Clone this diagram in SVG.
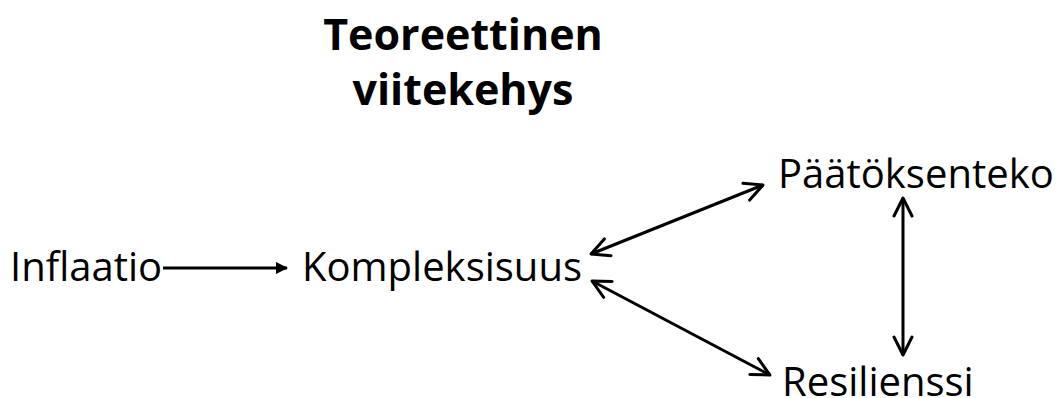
<svg xmlns="http://www.w3.org/2000/svg" width="1059" height="398" viewBox="0 0 1059 398">
<defs>
<style>
.t{font-family:"Open Sans","Liberation Sans",sans-serif;fill:#000}
.title{font-size:43px;font-weight:700;text-anchor:middle}
.lbl{font-size:40px}
.c{stroke:#000;stroke-width:3;fill:none}
</style>
<marker id="fill" viewBox="0 0 14 14" refX="12" refY="7" markerWidth="14" markerHeight="14" orient="auto" markerUnits="userSpaceOnUse"><path d="M1,1 L13,7 L1,13 z" fill="#000"/></marker>
<marker id="open" viewBox="0 0 24 24" refX="22" refY="12" markerWidth="24" markerHeight="24" orient="auto-start-reverse" markerUnits="userSpaceOnUse"><path d="M4,3 L22,12 L4,21" fill="none" stroke="#000" stroke-width="3" stroke-linecap="round" stroke-linejoin="round"/></marker>
</defs>
<rect width="1059" height="398" fill="#fff"/>
<g id="title"><text class="t title" x="463" y="50">Teoreettinen</text><text class="t title" x="463" y="105">viitekehys</text></g>
<g id="inflaatio"><text class="t lbl" x="10" y="281">Inflaatio</text></g>
<g id="kompleksisuus"><text class="t lbl" x="302" y="281">Kompleksisuus</text></g>
<g id="paatoksenteko"><text class="t lbl" x="778" y="188">Päätöksenteko</text></g>
<g id="resilienssi"><text class="t lbl" x="782" y="396">Resilienssi</text></g>
<g id="connectors">
<line class="c" x1="163" y1="268" x2="287" y2="268" marker-end="url(#fill)"/>
<line class="c" x1="591" y1="254" x2="763" y2="185" marker-start="url(#open)" marker-end="url(#open)"/>
<line class="c" x1="592" y1="281" x2="770" y2="375" marker-start="url(#open)" marker-end="url(#open)"/>
<line class="c" x1="903" y1="198" x2="903" y2="355" marker-start="url(#open)" marker-end="url(#open)"/>
</g>
</svg>
